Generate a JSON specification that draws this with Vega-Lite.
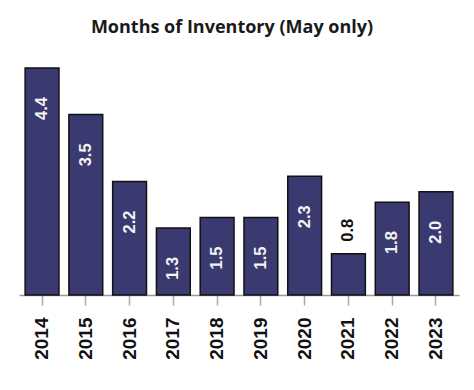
{
  "$schema": "https://vega.github.io/schema/vega-lite/v6.json",
  "width": 440,
  "height": 227,
  "autosize": {"type": "none"},
  "padding": {"left": 19, "top": 68, "right": 15, "bottom": 95},
  "title": {
    "text": "Months of Inventory (May only)",
    "font": "Open Sans",
    "fontSize": 18,
    "fontWeight": "bold",
    "color": "#1a1a1a",
    "anchor": "middle",
    "offset": 30,
    "dx": -7
  },
  "config": {"view": {"stroke": null}},
  "data": {
    "values": [
      {"year": "2014", "value": 4.4},
      {"year": "2015", "value": 3.5},
      {"year": "2016", "value": 2.2},
      {"year": "2017", "value": 1.3},
      {"year": "2018", "value": 1.5},
      {"year": "2019", "value": 1.5},
      {"year": "2020", "value": 2.3},
      {"year": "2021", "value": 0.8},
      {"year": "2022", "value": 1.8},
      {"year": "2023", "value": 2.0}
    ]
  },
  "encoding": {
    "x": {
      "field": "year",
      "type": "nominal",
      "sort": null,
      "scale": {"paddingInner": 0.227, "paddingOuter": 0.14},
      "axis": {
        "title": null,
        "labelAngle": -90,
        "labelAlign": "right",
        "labelBaseline": "middle",
        "labelFont": "Liberation Sans",
        "labelFontSize": 19,
        "labelFontWeight": "bold",
        "labelColor": "#111111",
        "labelPadding": 12,
        "tickSize": 10,
        "tickColor": "#aaaaaa",
        "tickWidth": 1.5,
        "domainColor": "#999999",
        "domainWidth": 1.5,
        "grid": false
      }
    },
    "y": {
      "field": "value",
      "type": "quantitative",
      "scale": {"domain": [0, 4.4], "nice": false},
      "axis": null
    }
  },
  "layer": [
    {
      "mark": {"type": "bar", "color": "#3a3a70", "stroke": "#111111", "strokeWidth": 1.5}
    },
    {
      "transform": [{"filter": "datum.value >= 1"}],
      "mark": {
        "type": "text",
        "angle": 270,
        "align": "right",
        "baseline": "middle",
        "dx": -29,
        "font": "Liberation Sans",
        "fontSize": 16.5,
        "fontWeight": "bold",
        "color": "#f4f4f4"
      },
      "encoding": {"text": {"field": "value", "type": "quantitative", "format": ".1f"}}
    },
    {
      "transform": [{"filter": "datum.value < 1"}],
      "mark": {
        "type": "text",
        "angle": 270,
        "align": "left",
        "baseline": "middle",
        "dx": 12,
        "font": "Liberation Sans",
        "fontSize": 16.5,
        "fontWeight": "bold",
        "color": "#111111"
      },
      "encoding": {"text": {"field": "value", "type": "quantitative", "format": ".1f"}}
    }
  ]
}
